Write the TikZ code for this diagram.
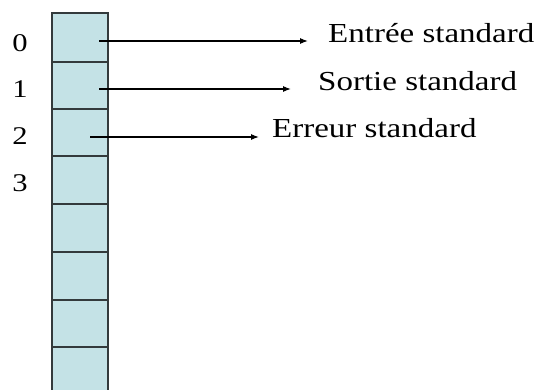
\documentclass[tikz,border=0pt]{standalone}
\usepackage{fontspec}
\setmainfont{Liberation Serif}[FakeStretch=1.2]
\usetikzlibrary{arrows.meta}
\definecolor{cellfill}{HTML}{C4E2E6}
\definecolor{cellline}{HTML}{333A3C}
\begin{document}
\begin{tikzpicture}[x=1pt,y=-1pt,
  cell/.style={draw=cellline,line width=1.2pt,fill=cellfill},
  arr/.style={draw=black,line width=1.1pt,-{Latex[length=8pt,width=6pt]}},
  lbl/.style={font=\fontsize{27.5}{28}\selectfont,anchor=base west,inner sep=0pt},
  num/.style={font=\fontsize{25.5}{26}\selectfont,anchor=base,inner sep=0pt}]
\useasboundingbox (0,0) rectangle (542,390);
\begin{scope}
\clip (0,0) rectangle (542,390);
\foreach \i/\a/\b in {0/13/62,1/62/109,2/109/156,3/156/204,4/204/252,5/252/300,6/300/347,7/347/396}{
  \path[cell] (52,\a) rectangle (108,\b);
  \coordinate (c\i) at (80,{(\a+\b)/2});
}
\end{scope}
\node[num] (n0) at (20,51.5) {0};
\node[num] (n1) at (20,98) {1};
\node[num] (n2) at (20,145) {2};
\node[num] (n3) at (20,192) {3};
\node[lbl] (t0) at (328,43) {Entrée standard};
\node[lbl] (t1) at (318,91) {Sortie standard};
\node[lbl] (t2) at (272,138) {Erreur standard};
\coordinate (s0) at (99,41);
\coordinate (e0) at (308,41);
\coordinate (s1) at (99,89);
\coordinate (e1) at (291,89);
\coordinate (s2) at (90,137);
\coordinate (e2) at (259,137);
\draw[arr] (s0) -- (e0);
\draw[arr] (s1) -- (e1);
\draw[arr] (s2) -- (e2);
\end{tikzpicture}
\end{document}
